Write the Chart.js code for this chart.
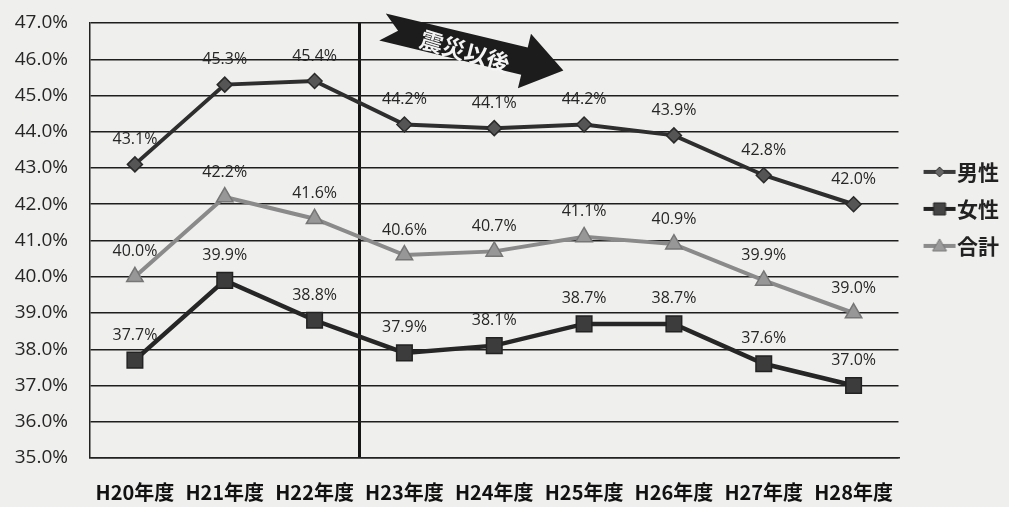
<!DOCTYPE html>
<html lang="ja">
<head>
<meta charset="utf-8">
<title>男女別割合の推移</title>
<script src="https://cdn.jsdelivr.net/npm/chart.js@4/dist/chart.umd.min.js"></script>
<style>
  html, body { margin: 0; padding: 0; background: #efefed; }
  #wrap { width: 1009px; height: 507px; position: relative; }
</style>
</head>
<body>
<div id="wrap"><canvas id="chart" width="1009" height="507"></canvas></div>
<script>
// Fiscal years on the x axis
const years = ['H20年度', 'H21年度', 'H22年度', 'H23年度', 'H24年度', 'H25年度', 'H26年度', 'H27年度', 'H28年度'];

// Rates (%) per year
const maleRates   = [43.1, 45.3, 45.4, 44.2, 44.1, 44.2, 43.9, 42.8, 42.0];
const femaleRates = [37.7, 39.9, 38.8, 37.9, 38.1, 38.7, 38.7, 37.6, 37.0];
const totalRates  = [40.0, 42.2, 41.6, 40.6, 40.7, 41.1, 40.9, 39.9, 39.0];

// Series names
const seriesNames = ['男性', '女性', '合計'];

// Y axis range
const yMin = 35;
const yMax = 47;

const NUM_FONT = '"Open Sans", "Noto Sans", sans-serif';
const JP_FONT = '"Noto Sans CJK JP", "Noto Sans", sans-serif';

// Small line+marker icon used in the legend (drawn in the right part of a wider canvas)
function legendIcon(lineColor, fill, stroke, shape) {
  const c = document.createElement('canvas');
  c.width = 60; c.height = 20;
  const g = c.getContext('2d');
  const x0 = 23, cx = 39;
  g.strokeStyle = lineColor;
  g.lineWidth = 4;
  g.beginPath(); g.moveTo(x0, 10); g.lineTo(x0 + 32, 10); g.stroke();
  g.fillStyle = fill; g.strokeStyle = stroke; g.lineWidth = 1;
  g.beginPath();
  if (shape === 'diamond') {
    g.moveTo(cx, 5); g.lineTo(cx + 5, 10); g.lineTo(cx, 15); g.lineTo(cx - 5, 10); g.closePath();
  } else if (shape === 'square') {
    g.rect(cx - 6, 4, 12, 12);
  } else {
    g.moveTo(cx, 3); g.lineTo(cx + 7, 15); g.lineTo(cx - 7, 15); g.closePath();
  }
  g.fill(); g.stroke();
  return c;
}

const icons = [
  legendIcon('#3a3a3a', '#666', '#333', 'diamond'),
  legendIcon('#222', '#444', '#222', 'square'),
  legendIcon('#8c8c8c', '#9c9c9c', '#777', 'triangle')
];

// Value labels above each point
const valueLabels = {
  id: 'valueLabels',
  afterDatasetsDraw(chart) {
    const ctx = chart.ctx;
    ctx.save();
    ctx.font = '16px ' + NUM_FONT;
    ctx.fillStyle = '#262626';
    ctx.textAlign = 'center';
    ctx.textBaseline = 'middle';
    chart.data.datasets.forEach((ds, i) => {
      const meta = chart.getDatasetMeta(i);
      meta.data.forEach((pt, j) => {
        ctx.fillText(ds.data[j].toFixed(1) + '%', pt.x, pt.y - 25);
      });
    });
    ctx.restore();
  }
};

// "震災以後" arrow banner after the H22/H23 boundary
const afterQuakeArrow = {
  id: 'afterQuakeArrow',
  afterDraw(chart) {
    const ctx = chart.ctx;
    const x = chart.scales.x;
    const boundary = (x.getPixelForValue(2) + x.getPixelForValue(3)) / 2;
    const ox = boundary + 23;
    const oy = chart.chartArea.top + 4;
    const ang = 13.5 * Math.PI / 180;
    ctx.save();
    ctx.translate(ox, oy);
    ctx.rotate(ang);
    ctx.fillStyle = '#1c1c1c';
    ctx.beginPath();
    ctx.moveTo(0, -14);
    ctx.lineTo(146, -14);
    ctx.lineTo(146, -28);
    ctx.lineTo(186, 0);
    ctx.lineTo(146, 28);
    ctx.lineTo(146, 14);
    ctx.lineTo(0, 14);
    ctx.lineTo(16, 0);
    ctx.closePath();
    ctx.fill();
    ctx.rotate(3 * Math.PI / 180);
    ctx.fillStyle = '#f4f4f4';
    ctx.font = 'bold 23px ' + JP_FONT;
    ctx.textAlign = 'center';
    ctx.textBaseline = 'middle';
    ctx.fillText('震災以後', 86, 0);
    ctx.restore();
  }
};

new Chart(document.getElementById('chart'), {
  type: 'line',
  data: {
    labels: years,
    datasets: [
      {
        label: seriesNames[0],
        data: maleRates,
        borderColor: '#2e2e2e',
        borderWidth: 4,
        pointStyle: 'rectRot',
        pointRadius: 7.5,
        pointBackgroundColor: '#555',
        pointBorderColor: '#2a2a2a',
        pointBorderWidth: 1.5,
        tension: 0
      },
      {
        label: seriesNames[1],
        data: femaleRates,
        borderColor: '#262626',
        borderWidth: 4.5,
        pointStyle: 'rect',
        pointRadius: 11,
        pointBackgroundColor: '#3c3c3c',
        pointBorderColor: '#222',
        pointBorderWidth: 1.5,
        tension: 0
      },
      {
        label: seriesNames[2],
        data: totalRates,
        borderColor: '#8a8a8a',
        borderWidth: 4,
        pointStyle: 'triangle',
        pointRadius: 9.5,
        pointBackgroundColor: '#979797',
        pointBorderColor: '#767676',
        pointBorderWidth: 1.5,
        tension: 0
      }
    ]
  },
  options: {
    responsive: false,
    animation: false,
    devicePixelRatio: 1,
    layout: { padding: { top: 23, right: 0, bottom: 0, left: 0 } },
    scales: {
      x: {
        offset: true,
        grid: {
          offset: true,
          drawTicks: false,
          color: (c) => c.index === 3 ? '#151515' : 'rgba(0,0,0,0)',
          lineWidth: 3
        },
        border: { display: true, color: '#222', width: 1.5 },
        ticks: {
          color: '#111',
          padding: 22,
          font: { family: JP_FONT, size: 20, weight: 'bold' },
          maxRotation: 0,
          autoSkip: false
        },
        afterFit(scale) {
          scale.height = 49;
          scale.paddingTop = 0;
          scale.paddingBottom = 0;
        }
      },
      y: {
        min: yMin,
        max: yMax,
        grid: { color: '#1e1e1e', lineWidth: 1.5, drawTicks: false },
        border: { display: true, color: '#222', width: 1.5 },
        ticks: {
          stepSize: 1,
          color: '#262626',
          padding: 22,
          font: { family: NUM_FONT, size: 19 },
          callback: (v) => Number(v).toFixed(1) + '%'
        },
        afterFit(scale) {
          scale.width = 90;
          scale.paddingTop = 0;
          scale.paddingBottom = 0;
        }
      }
    },
    plugins: {
      legend: {
        position: 'right',
        align: 'start',
        title: { display: true, text: '', padding: { top: 108, bottom: 0 } },
        labels: {
          usePointStyle: true,
          pointStyleWidth: 32,
          padding: 16,
          color: '#222',
          font: { family: JP_FONT, size: 21, weight: 'bold' },
          generateLabels(chart) {
            return chart.data.datasets.map((ds, i) => ({
              text: ds.label,
              pointStyle: icons[i],
              fillStyle: ds.borderColor,
              strokeStyle: ds.borderColor,
              lineWidth: 0,
              hidden: false,
              datasetIndex: i,
              fontColor: '#222'
            }));
          }
        }
      },
      tooltip: { enabled: false }
    }
  },
  plugins: [valueLabels, afterQuakeArrow]
});
</script>
</body>
</html>
